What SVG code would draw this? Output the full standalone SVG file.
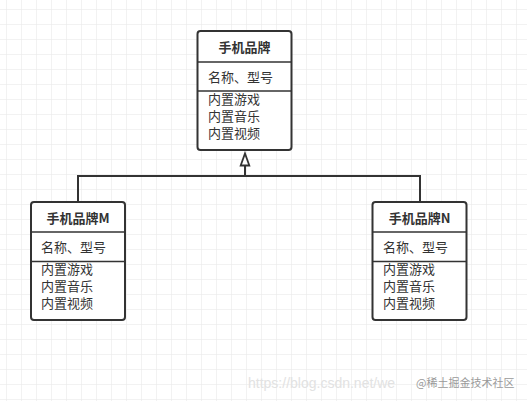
<svg xmlns="http://www.w3.org/2000/svg" width="527" height="401" viewBox="0 0 527 401">
<defs>
<pattern id="grid" x="6" y="9" width="15" height="15" patternUnits="userSpaceOnUse">
<path d="M0 0H15M0 0V15" fill="none" stroke="#e6e6e6" stroke-width="1"/>
</pattern>
</defs>
<style>
.box{fill:#fff;stroke:#333;stroke-width:2}
.div{stroke:#333;stroke-width:1.5}
.t{font-family:"Noto Sans CJK SC","Liberation Sans",sans-serif;font-size:13px;fill:#333}
.b{font-weight:bold;text-anchor:middle}
.con{fill:none;stroke:#333;stroke-width:2}
.arr{fill:#fff;stroke:#333;stroke-width:1.8;stroke-linejoin:miter}
</style>
<rect width="527" height="401" fill="#fff"/>
<rect width="527" height="401" fill="url(#grid)"/>
<g id="connectors">
<path class="con" d="M78 202V176H420V202"/>
<path class="con" d="M245 176V165.5"/>
<path class="arr" d="M245 153.5L249.3 165.5H240.7Z"/>
</g>
<g id="node-top">
<rect class="box" x="197.5" y="31" width="94" height="119" rx="3"/>
<line class="div" x1="197.5" y1="62" x2="291.5" y2="62"/>
<line class="div" x1="197.5" y1="91" x2="291.5" y2="91"/>
<text class="t b" x="244.5" y="52">手机品牌</text>
<text class="t" x="208" y="82">名称、型号</text>
<text class="t" x="208" y="103.5">内置游戏</text>
<text class="t" x="208" y="120.5">内置音乐</text>
<text class="t" x="208" y="137.5">内置视频</text>
</g>
<g id="node-m">
<rect class="box" x="31" y="202" width="94" height="118" rx="3"/>
<line class="div" x1="31" y1="232" x2="125" y2="232"/>
<line class="div" x1="31" y1="261.5" x2="125" y2="261.5"/>
<text class="t b" x="78" y="222.5">手机品牌M</text>
<text class="t" x="41" y="252">名称、型号</text>
<text class="t" x="41" y="274">内置游戏</text>
<text class="t" x="41" y="291">内置音乐</text>
<text class="t" x="41" y="308">内置视频</text>
</g>
<g id="node-n">
<rect class="box" x="372.5" y="202" width="94" height="118" rx="3"/>
<line class="div" x1="372.5" y1="232" x2="466.5" y2="232"/>
<line class="div" x1="372.5" y1="261.5" x2="466.5" y2="261.5"/>
<text class="t b" x="419.5" y="222.5">手机品牌N</text>
<text class="t" x="383" y="252">名称、型号</text>
<text class="t" x="383" y="274">内置游戏</text>
<text class="t" x="383" y="291">内置音乐</text>
<text class="t" x="383" y="308">内置视频</text>
</g>
<text x="248" y="388" font-family="Liberation Sans,sans-serif" font-size="14" fill="#e2e2e2">https://blog.csdn.net/we</text>
<text x="416" y="387" font-family="Noto Sans CJK SC,sans-serif" font-size="11" fill="#9a9a9a">@稀土掘金技术社区</text>
</svg>
